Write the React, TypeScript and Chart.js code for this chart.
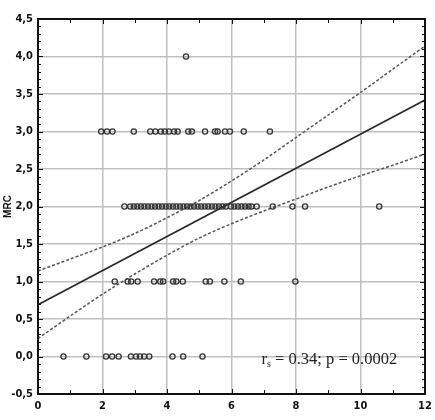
import React, { useEffect, useRef } from "react";
import { Chart, registerables } from "chart.js";

Chart.register(...registerables);

// ---- data ----
const row0X = [0.79, 1.5, 2.11, 2.3, 2.5, 2.88, 3.04, 3.16, 3.29, 3.45, 4.17, 4.5, 5.1];
const row1X = [2.38, 2.78, 2.89, 3.09, 3.6, 3.79, 3.88, 4.19, 4.29, 4.49, 5.2, 5.33, 5.78, 6.29, 7.98];
const row2X = [
  2.68, 2.86, 2.97, 3.08, 3.19, 3.3, 3.41, 3.52, 3.63, 3.74, 3.85, 3.96, 4.07, 4.18, 4.29, 4.4,
  4.51, 4.62, 4.73, 4.84, 4.95, 5.06, 5.17, 5.28, 5.39, 5.5, 5.61, 5.72, 5.83, 5.98, 6.09, 6.2,
  6.31, 6.42, 6.53, 6.62, 6.78, 7.28, 7.89, 8.28, 10.58,
];
const row3X = [
  1.96, 2.14, 2.31, 2.97, 3.48, 3.64, 3.81, 3.93, 4.06, 4.22, 4.33, 4.66, 4.77, 5.18, 5.49, 5.57,
  5.8, 5.95, 6.38, 7.19,
];
const row4X = [4.59];
const rowValues = [0, 1, 2, 3, 4];

const fitX = [0, 12];
const fitY = [0.69, 3.42];
const ciX = [0, 1, 2, 3, 4, 5, 6, 7, 8, 9, 10, 11, 12];
const ciUpper = [1.14, 1.3, 1.46, 1.64, 1.85, 2.08, 2.34, 2.62, 2.92, 3.22, 3.52, 3.83, 4.14];
const ciLower = [0.24, 0.54, 0.83, 1.1, 1.35, 1.58, 1.77, 1.94, 2.1, 2.26, 2.41, 2.55, 2.7];

const yTickLabels = ["-0,5", "0,0", "0,5", "1,0", "1,5", "2,0", "2,5", "3,0", "3,5", "4,0", "4,5"];
const xTickLabels = ["0", "2", "4", "6", "8", "10", "12"];
const yAxisTitle = "MRC";
const annoMain = "r";
const annoSub = "s";
const annoRest = " = 0.34; p = 0.0002";
const annoPos = { x: 6.93, y: -0.1 };

const tickFont = { family: "'Liberation Sans Narrow', 'DejaVu Sans Condensed', Arial, sans-serif", size: 11, weight: "bold" as const };

export default function App() {
  const ref = useRef<HTMLCanvasElement | null>(null);
  useEffect(() => {
    document.body.style.margin = "0";
    const canvas = ref.current!;
    const rows = [row0X, row1X, row2X, row3X, row4X];
    const points: { x: number; y: number }[] = [];
    rows.forEach((r, i) => r.forEach((x) => points.push({ x, y: rowValues[i] })));

    const framePlugin = {
      id: "frame",
      beforeDraw(chart: any) {
        const c = chart.ctx;
        c.save();
        c.fillStyle = "#ffffff";
        c.fillRect(0, 0, chart.width, chart.height);
        c.restore();
      },
      afterDatasetsDraw(chart: any) {
        const c = chart.ctx;
        const a = chart.chartArea;
        const xs = chart.scales.x;
        const ys = chart.scales.y;
        c.save();
        c.strokeStyle = "#111";
        c.lineWidth = 1;
        for (let k = -5; k <= 45; k++) {
          const py = Math.round(ys.getPixelForValue(k / 10)) + 0.5;
          const len = k % 5 === 0 ? 5 : 3;
          c.beginPath();
          c.moveTo(a.left, py);
          c.lineTo(a.left + len, py);
          c.moveTo(a.right, py);
          c.lineTo(a.right - len, py);
          c.stroke();
        }
        for (let k = 0; k <= 12; k++) {
          const px = Math.round(xs.getPixelForValue(k)) + 0.5;
          const len = k % 2 === 0 ? 5 : 4;
          c.beginPath();
          c.moveTo(px, a.top);
          c.lineTo(px, a.top + len);
          c.moveTo(px, a.bottom);
          c.lineTo(px, a.bottom - len);
          c.stroke();
        }
        c.lineWidth = 2;
        c.strokeRect(a.left, a.top, a.right - a.left, a.bottom - a.top);
        const tx = xs.getPixelForValue(annoPos.x);
        const ty = ys.getPixelForValue(annoPos.y);
        c.fillStyle = "#222";
        c.textBaseline = "alphabetic";
        c.font = "16.5px 'Liberation Serif', 'Times New Roman', serif";
        c.fillText(annoMain, tx, ty);
        let w = c.measureText(annoMain).width;
        c.font = "10px 'Liberation Serif', 'Times New Roman', serif";
        c.fillText(annoSub, tx + w, ty + 3);
        w += c.measureText(annoSub).width;
        c.font = "16.5px 'Liberation Serif', 'Times New Roman', serif";
        c.fillText(annoRest, tx + w, ty);
        c.restore();
      },
    };

    const chart = new Chart(canvas, {
      type: "scatter",
      data: {
        datasets: [
          {
            data: points,
            pointRadius: 2.6,
            pointBorderWidth: 1.3,
            pointBorderColor: "#333",
            pointBackgroundColor: "rgba(255,255,255,0)",
            showLine: false,
            order: 1,
          } as any,
          {
            data: fitX.map((x, i) => ({ x, y: fitY[i] })),
            showLine: true,
            pointRadius: 0,
            borderColor: "#2a2a2a",
            borderWidth: 1.6,
            order: 2,
          },
          {
            data: ciX.map((x, i) => ({ x, y: ciUpper[i] })),
            showLine: true,
            pointRadius: 0,
            borderColor: "#555",
            borderWidth: 1.5,
            borderDash: [3, 2],
            tension: 0.3,
            order: 3,
          },
          {
            data: ciX.map((x, i) => ({ x, y: ciLower[i] })),
            showLine: true,
            pointRadius: 0,
            borderColor: "#555",
            borderWidth: 1.5,
            borderDash: [3, 2],
            tension: 0.3,
            order: 3,
          },
        ],
      },
      options: {
        animation: false,
        responsive: false,
        devicePixelRatio: 1,
        layout: { autoPadding: false, padding: { top: 19, right: 10, left: 0, bottom: 0 } },
        plugins: { legend: { display: false }, tooltip: { enabled: false } },
        scales: {
          x: {
            type: "linear",
            min: 0,
            max: 12,
            afterFit: (s: any) => {
              s.height = 26;
              s.paddingLeft = 0;
              s.paddingRight = 0;
            },
            ticks: {
              stepSize: 2,
              color: "#111",
              font: tickFont,
              padding: 6,
              maxRotation: 0,
              callback: (_v: any, i: number) => xTickLabels[i],
            },
            grid: { color: "#bfbfbf", lineWidth: 1.5, drawTicks: false },
            border: { display: false },
          },
          y: {
            type: "linear",
            min: -0.5,
            max: 4.5,
            afterFit: (s: any) => {
              s.width = 38;
              s.paddingTop = 0;
              s.paddingBottom = 0;
            },
            ticks: {
              stepSize: 0.5,
              color: "#111",
              font: tickFont,
              padding: 5,
              callback: (_v: any, i: number) => yTickLabels[i],
            },
            title: {
              display: true,
              text: yAxisTitle,
              color: "#111",
              font: { family: "'Liberation Sans', Arial, sans-serif", size: 10, weight: "bold" },
              padding: { top: 2, bottom: 0 },
            },
            grid: { color: "#bfbfbf", lineWidth: 1.5, drawTicks: false },
            border: { display: false },
          },
        },
      },
      plugins: [framePlugin],
    });
    return () => chart.destroy();
  }, []);
  return (
    <div style={{ width: 435, height: 420 }}>
      <canvas ref={ref} width={435} height={420} />
    </div>
  );
}
